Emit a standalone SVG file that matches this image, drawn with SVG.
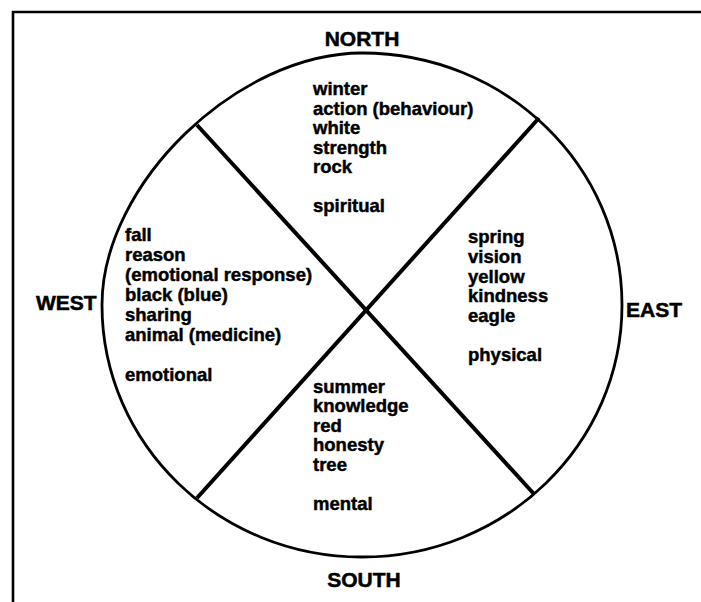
<svg xmlns="http://www.w3.org/2000/svg" width="701" height="602" viewBox="0 0 701 602">
<style>
.t{font-family:"Liberation Sans",Arial,sans-serif;font-weight:bold;font-size:18.5px;fill:#000;stroke:#000;stroke-width:0.45}
.h{font-family:"Liberation Sans",Arial,sans-serif;font-weight:bold;font-size:21px;fill:#000;stroke:#000;stroke-width:0.5}
.ln{stroke:#000;stroke-width:4;fill:none;stroke-linecap:butt}
.fr{stroke:#000;stroke-width:2.6;fill:none}
</style>
<rect width="701" height="602" fill="#fff"/>
<path class="fr" d="M13 602 V12 H701"/>
<g id="wheel">
<path fill="none" stroke="#000" stroke-width="2.8" d="M102 305 C102 184 237.2 53 362 53 C505.6 53 622 165.8 622 305 C622 444.2 505.6 557 362 557 C218.4 557 102 444.2 102 305 Z"/>
</g>
<g id="connectors">
<line class="ln" x1="197" y1="125" x2="534" y2="494"/>
<line class="ln" x1="539" y1="118" x2="197" y2="498"/>
</g>
<g id="north">
<text class="h" x="362" y="46" text-anchor="middle">NORTH</text>
<text class="t" x="313" y="95">winter</text>
<text class="t" x="313" y="114.5">action (behaviour)</text>
<text class="t" x="313" y="134">white</text>
<text class="t" x="313" y="153.5">strength</text>
<text class="t" x="313" y="173">rock</text>
<text class="t" x="313" y="212">spiritual</text>
</g>
<g id="west">
<text class="h" x="36" y="310">WEST</text>
<text class="t" x="125" y="241">fall</text>
<text class="t" x="125" y="261">reason</text>
<text class="t" x="125" y="281">(emotional response)</text>
<text class="t" x="125" y="301">black (blue)</text>
<text class="t" x="125" y="321">sharing</text>
<text class="t" x="125" y="341">animal (medicine)</text>
<text class="t" x="125" y="381">emotional</text>
</g>
<g id="east">
<text class="h" x="626" y="317">EAST</text>
<text class="t" x="468" y="243">spring</text>
<text class="t" x="468" y="263">vision</text>
<text class="t" x="468" y="282.5">yellow</text>
<text class="t" x="468" y="302">kindness</text>
<text class="t" x="468" y="321.5">eagle</text>
<text class="t" x="468" y="360.5">physical</text>
</g>
<g id="south">
<text class="h" x="364" y="587" text-anchor="middle">SOUTH</text>
<text class="t" x="313" y="392.5">summer</text>
<text class="t" x="313" y="412">knowledge</text>
<text class="t" x="313" y="431.5">red</text>
<text class="t" x="313" y="451">honesty</text>
<text class="t" x="313" y="470.5">tree</text>
<text class="t" x="313" y="510">mental</text>
</g>
</svg>
